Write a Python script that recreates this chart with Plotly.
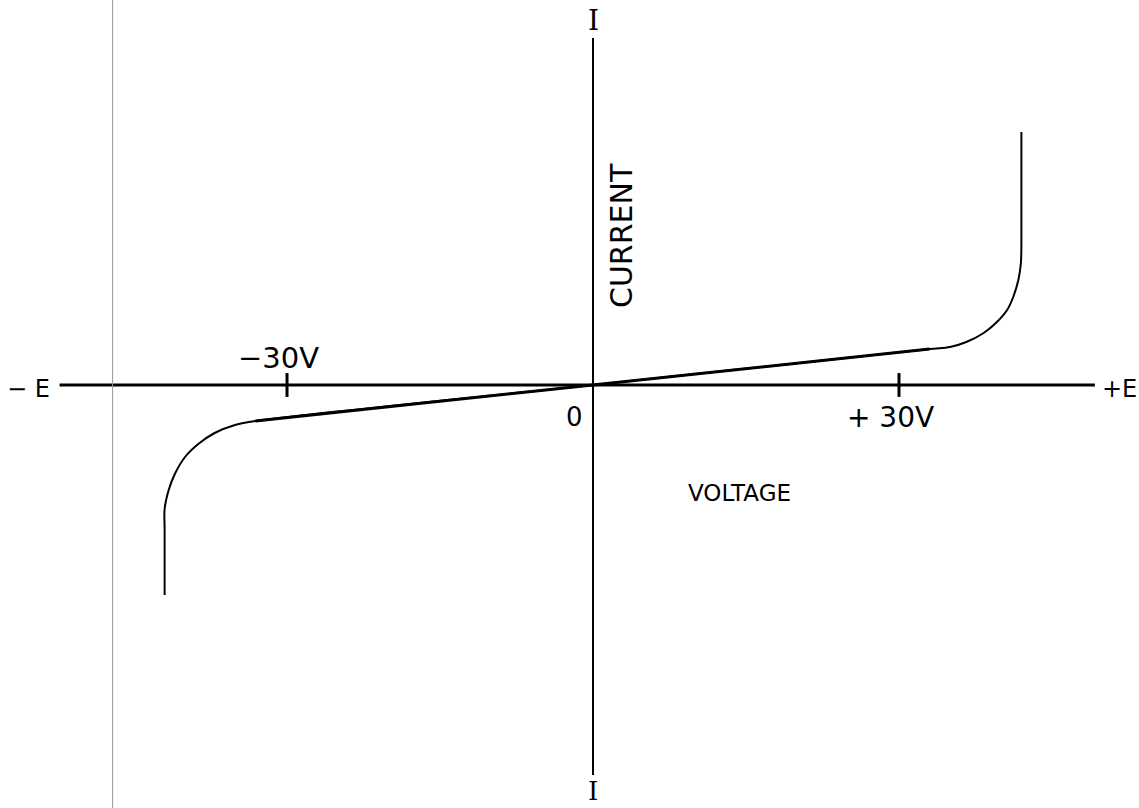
import plotly.graph_objects as go

# Current-voltage characteristic: linear region through the origin,
# breakdown knees near +/-42 V.
voltage = [-42.0, -42.0, -42.0, -41.6, -41.0, -40.0, -38.7, -37.1, -35.1, -33.1,
           0.0,
           33.0, 35.0, 36.6, 38.3, 39.6, 40.6, 41.2, 41.7, 41.95, 42.0, 42.0]
current = [-21.0, -14.5, -12.4, -10.5, -8.9, -7.2, -5.9, -4.8, -4.0, -3.6,
           0.0,
           3.6, 3.8, 4.3, 5.2, 6.3, 7.5, 8.8, 10.5, 12.2, 14.5, 25.3]

# straight (ohmic) section: indices of its two ends in the arrays above
linear_lo, linear_hi = 9, 11

tick_values = [-30, 30]
tick_labels = ["\u221230V", "+ 30V"]

# axis extents in data units
x_axis_span = [-52.3, 49.2]
y_axis_span = [-39.0, 34.7]
x_range = [-58.14, 53.53]
y_range = [-42.3, 38.5]
border_x = -47.1

ink = "#000000"
sans = "DejaVu Sans"
serif = "DejaVu Serif"

fig = go.Figure()

# horizontal (voltage) axis
fig.add_trace(go.Scatter(x=x_axis_span, y=[0, 0], mode="lines",
                         line=dict(color=ink, width=3), hoverinfo="skip"))
# vertical (current) axis
fig.add_trace(go.Scatter(x=[0, 0], y=y_axis_span, mode="lines",
                         line=dict(color=ink, width=2), hoverinfo="skip"))
# tick marks at +/-30 V
fig.add_trace(go.Scatter(x=tick_values, y=[0, 0], mode="markers",
                         marker=dict(symbol="line-ns", size=17,
                                     line=dict(color=ink, width=3)),
                         hoverinfo="skip"))

# characteristic curve
fig.add_trace(go.Scatter(x=voltage, y=current, mode="lines",
                         line=dict(color=ink, width=2, shape="spline", smoothing=0.9),
                         hoverinfo="skip"))
fig.add_trace(go.Scatter(x=voltage[linear_lo:linear_hi + 1],
                         y=current[linear_lo:linear_hi + 1], mode="lines",
                         line=dict(color=ink, width=3), hoverinfo="skip"))

# thin page border line on the left
fig.add_shape(type="line", xref="x", yref="paper", x0=border_x, x1=border_x,
              y0=0, y1=1, line=dict(color="#9a9a9a", width=1))


def label(x, y, text, size, font=sans, angle=0):
    fig.add_annotation(x=x, y=y, xref="x", yref="y", text=text, showarrow=False,
                       textangle=angle, xanchor="center", yanchor="middle",
                       font=dict(family=font, size=size, color=ink))


label(-30.8, 2.7, tick_labels[0], 29)
label(29.2, -3.2, tick_labels[1], 28)
label(-1.8, -3.2, "0", 26)
label(-55.3, -0.4, "\u2212 E", 24)
label(51.6, -0.4, "+E", 24)
label(0, 36.5, "I", 28, font=serif)
label(0, -40.6, "I", 26, font=serif)
label(2.75, 14.9, "CURRENT", 30, angle=-90)
label(14.4, -10.8, "VOLTAGE", 23)

fig.update_layout(
    width=1139, height=808,
    margin=dict(l=0, r=0, t=0, b=0),
    paper_bgcolor="white", plot_bgcolor="white",
    showlegend=False,
    xaxis=dict(range=x_range, visible=False, fixedrange=True),
    yaxis=dict(range=y_range, visible=False, fixedrange=True),
)

fig.write_html("out.html")
